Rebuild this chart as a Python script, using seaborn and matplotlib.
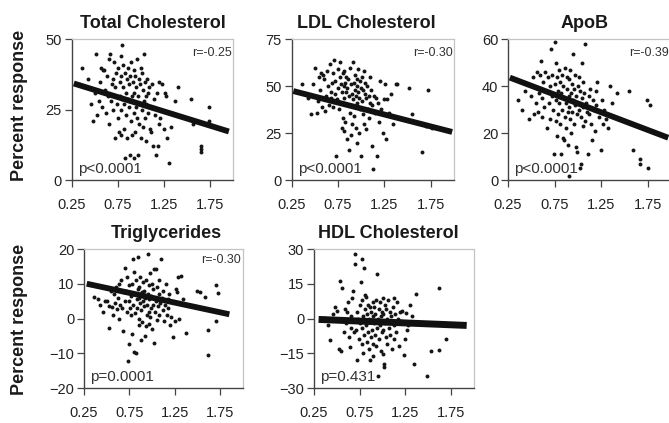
import matplotlib
matplotlib.use("Agg")
import matplotlib.pyplot as plt
import pandas as pd
import seaborn as sns

# ---- data -------------------------------------------------------------
# x values shared by the bulk of the subjects (dose-normalised exposure)
x_core = [
    0.36, 0.40, 0.43, 0.46, 0.48, 0.50, 0.52, 0.53, 0.55, 0.56, 0.57, 0.58, 0.59,
    0.60, 0.61, 0.62, 0.63, 0.64, 0.65, 0.66, 0.67, 0.68, 0.69, 0.70, 0.70,
    0.71, 0.72, 0.72, 0.73, 0.74, 0.75, 0.75, 0.76, 0.77, 0.77, 0.78, 0.78, 0.79, 0.79, 0.80, 0.80,
    0.81, 0.81, 0.82, 0.82, 0.83, 0.83, 0.84, 0.84, 0.85, 0.85, 0.86, 0.86, 0.87, 0.87, 0.88, 0.88,
    0.89, 0.89, 0.90, 0.90,
    0.91, 0.91, 0.92, 0.92, 0.93, 0.93, 0.94, 0.94, 0.95, 0.95, 0.96, 0.96, 0.97, 0.97, 0.98, 0.98,
    0.99, 0.99, 1.00, 1.00,
    1.01, 1.01, 1.02, 1.02, 1.03, 1.03, 1.04, 1.04, 1.05, 1.05, 1.06, 1.07, 1.08, 1.08, 1.09, 1.10,
    1.11, 1.12, 1.12, 1.13, 1.14, 1.15, 1.16, 1.17, 1.18, 1.19, 1.20,
    1.21, 1.23, 1.25, 1.26, 1.27, 1.28, 1.30, 1.32, 1.34, 1.37,
]

# Total cholesterol
x_tc = x_core + [1.40, 1.54, 1.56, 1.65, 1.65, 1.65, 1.73, 1.73]
y_tc = [
    40, 33, 36, 27, 21, 31, 45, 23, 28, 35, 40, 26, 39,
    39, 32, 24, 37, 30, 20, 43, 45, 28, 34, 25, 36,
    42, 15, 33, 38, 27, 22, 40, 17, 35, 30, 44, 25, 16, 37, 29, 48,
    41, 33, 18, 27, 38, 8, 31, 23, 36, 15, 29, 40, 26, 34, 9, 37, 21, 42, 30, 16,
    35, 28, 8, 39, 24, 31, 17, 37, 33, 26, 43, 22, 30, 9, 36, 20, 27, 34, 15, 40,
    38, 25, 32, 19, 45, 28, 35, 22, 30, 14, 27, 36, 24, 31, 33, 18,
    17, 34, 26, 12, 29, 23, 9, 31, 12, 35, 20,
    22, 34, 18, 31, 30, 15, 6, 19, 24, 28,
    33, 29, 20, 12, 11, 10, 26, 21,
]

# LDL cholesterol
x_ldl = x_core + [1.39, 1.52, 1.55, 1.65, 1.70, 1.72, 1.76]
y_ldl = [
    51, 46, 44, 35, 51, 60, 36, 42, 55, 48, 57, 39, 56,
    54, 37, 45, 58, 50, 40, 62, 47, 44, 52, 57, 39,
    64, 46, 53, 13, 43, 59, 49, 38, 63, 55, 41, 51, 28, 47, 57, 33,
    50, 26, 58, 44, 52, 31, 47, 55, 22, 49, 40, 54, 16, 45, 60, 36, 51, 24, 46, 30,
    63, 43, 52, 34, 48, 56, 28, 45, 50, 20, 54, 41, 47, 59, 25, 44, 53, 38, 13, 49,
    42, 55, 35, 48, 58, 30, 46, 52, 27, 44, 50, 38, 45, 33, 55, 41,
    48, 18, 40, 6, 45, 36, 44, 13, 41, 31, 53,
    38, 25, 43, 51, 22, 43, 36, 46, 30, 51,
    51, 49, 35, 15, 29, 48, 28,
]

# Apolipoprotein B
x_apob = x_core + [1.42, 1.55, 1.59, 1.67, 1.67, 1.74, 1.75, 1.77]
y_apob = [
    34, 30, 38, 41, 26, 36, 44, 28, 33, 46, 29, 37, 45,
    51, 35, 27, 42, 31, 46, 38, 22, 44, 33, 26, 40,
    56, 36, 45, 30, 11, 59, 41, 25, 50, 34, 44, 19, 38, 28, 47, 33,
    42, 24, 37, 11, 45, 30, 18, 40, 17, 35, 27, 48, 33, 22, 39, 44, 29, 15, 36, 1.5,
    43, 31, 26, 47, 37, 20, 41, 29, 34, 54, 24, 39, 32, 45, 14, 36, 28, 12, 40, 33,
    30, 44, 5, 38, 7, 27, 50, 35, 23, 42, 31, 37, 25, 58, 33, 29,
    11, 36, 28, 39, 24, 17, 34, 30, 21, 38, 32,
    42, 27, 13, 34, 24, 30, 26, 22, 40, 33,
    37, 38, 13, 9, 7, 34, 5, 32,
]

# Triglycerides
x_tg = x_core + [1.49, 1.53, 1.58, 1.62, 1.62, 1.70, 1.70, 1.73]
y_tg = [
    6.3, 5.5, 4, 2, 5.1, 5.0, 3.7, -2.7, 8, 3.2, 1, 7, 4.5,
    9, 2.8, 6, 0, 10, 4, 11, 3, -3.6, 7.5, 14.5, 5,
    8, 2, 12, -12.2, 5, 9.5, -7.2, 3, 6.5, 1, 10, -4.4, 17, 4, 13.5, -9.6,
    7, 1.5, 11, -9.8, 5.5, 3, 17.7, 8.5, 0, 6, -2, 9, 4.5, 12, -6.3, 2.5, 7.5, -1, 10.5, 5,
    3.5, 8, -5.1, 6, -2.3, 11, 4, 1, 18.7, 7, 2, 9.5, -1.5, 5.5, 13, 0.5, 6.5, 3, 10, -3,
    4, 8.5, -7, 14.2, 2, 6, 14.2, 5, -0.5, 9, 3.5, 7, 1, 11, 4.5, 17,
    6, 2.5, 8, -0.6, 4, 10, 1, 5.5, 3, 7, -2,
    0.4, -5.3, -0.6, 8.5, 7.5, 12, 0, 12.1, 5.6, -4.2,
    8, 7.5, 6.3, -3.2, -10.6, 9.6, -0.6, 7.2,
]

# HDL cholesterol
x_hdl = x_core + [1.49, 1.53, 1.62, 1.62, 1.69]
y_hdl = [
    0.3, -3, -9.4, 2, 5.1, 3.1, -13, 16, -14, 13, -1, -6, 4,
    -2, 2.7, 7, -8, -12.3, 1, -4, 9, 12, -6, 27.7, 23.4,
    -5, 3, -17.7, 0, -9, 6, -2, 15.6, -11, 25.6, -4, 8, -15, 1, 21.7, -7,
    4, 10.3, 9.4, -3, -10, 2, -6, 6, -13, 0, -18, 5, -8, 3, -1, -5, 7, -11, 1, -16,
    -2, 5, -7, 2, -12, 8, -4, 19.1, -25, 0, -9, 4, -3, 7, -14, 1, -6, 3, -15.4, 9,
    -5, 2, -19.7, -21, 6, -2, -8, 4, -11, 0, 8, -4, 3, -7, 1, -13,
    5, -3, 9, -9, 2, -6, 7, 0, -12, 3, -1,
    3.4, -15.9, -8.7, 2.3, -4.9, -3, 6, 1, -19.7, 10.6,
    -24.9, -14, 13.1, -13.4, -8.7,
]

titles = ["Total Cholesterol", "LDL Cholesterol", "ApoB", "Triglycerides", "HDL Cholesterol"]
r_labels = ["r=-0.25", "r=-0.30", "r=-0.39", "r=-0.30", ""]
p_labels = ["p<0.0001", "p<0.0001", "p<0.0001", "p=0.0001", "p=0.431"]

# fitted regression lines: slope, intercept and the x span they cover
fit_slope = [-10.2, -12.75, -15.1, -5.6, -1.6]
fit_intercept = [37.15, 50.9, 47.8, 11.57, 0.08]
fit_x_start = [0.275, 0.27, 0.27, 0.28, 0.30]
fit_x_end = [1.95, 1.98, 1.97, 1.85, 1.92]

y_limits = [(0, 50), (0, 75), (0, 60), (-20, 20), (-30, 30)]
y_ticks = [[0, 25, 50], [0, 25, 50, 75], [0, 20, 40, 60],
           [-20, -10, 0, 10, 20], [-30, -15, 0, 15, 30]]
x_ticks = [0.25, 0.75, 1.25, 1.75]
x_tick_labels = ["0.25", "0.75", "1.25", "1.75"]

xs = [x_tc, x_ldl, x_apob, x_tg, x_hdl]
ys = [y_tc, y_ldl, y_apob, y_tg, y_hdl]

# ---- styling ----------------------------------------------------------
sns.set_theme(style="white")
plt.rcParams["font.family"] = ["Liberation Sans", "DejaVu Sans"]

W, H = 669, 423
fig = plt.figure(figsize=(W / 100, H / 100), dpi=100)

# panel boxes in pixels: left, top, right, bottom
boxes = [
    (71.5, 39.5, 233.5, 180),
    (291.5, 39.5, 454, 180),
    (508, 39.5, 671, 180),
    (84, 249, 243, 388),
    (314, 249, 474, 388),
]
title_x = [153, 366, 585, 166, 388]
title_y = [23, 23, 23, 233, 233]

dark = "#333333"
for i in range(5):
    l, t, r, b = boxes[i]
    ax = fig.add_axes([l / W, (H - b) / H, (r - l) / W, (b - t) / H])
    df = pd.DataFrame({"x": xs[i], "y": ys[i]})
    sns.scatterplot(data=df, x="x", y="y", ax=ax, s=8, color="#151515",
                    linewidth=0, zorder=2)
    fx = [fit_x_start[i], fit_x_end[i]]
    fy = [fit_intercept[i] + fit_slope[i] * v for v in fx]
    ax.plot(fx, fy, color="#111111", lw=4.2 if i < 4 else 5.0,
            solid_capstyle="butt", zorder=3)

    ax.set_xlim(0.25, 2.0)
    ax.set_ylim(*y_limits[i])
    ax.set_xticks(x_ticks)
    ax.set_xticklabels(x_tick_labels)
    ax.set_yticks(y_ticks[i])
    ax.set_xlabel("")
    ax.set_ylabel("")
    ax.tick_params(axis="both", direction="out", length=5, width=0.9,
                   color="#444444", labelsize=10.5, labelcolor="#222222",
                   left=True, bottom=True)
    ax.tick_params(axis="x", pad=8)
    ax.tick_params(axis="y", pad=2)
    for side in ("top", "right"):
        ax.spines[side].set_color("#c4c4c4")
        ax.spines[side].set_linewidth(0.9)
    for side in ("left", "bottom"):
        ax.spines[side].set_color("#444444")
        ax.spines[side].set_linewidth(1.0)

    if r_labels[i]:
        ax.text(0.99 if i != 3 else 0.985, 0.905 if i < 3 else 0.92,
                r_labels[i], transform=ax.transAxes, ha="right", va="center",
                fontsize=9, color=dark)
    ax.text(0.04, 0.08, p_labels[i], transform=ax.transAxes, ha="left",
            va="center", fontsize=11, color=dark, zorder=4)

    fig.text(title_x[i] / W, (H - title_y[i]) / H, titles[i], ha="center",
             va="center", fontsize=13, fontweight="bold", color="#1a1a1a")

for yc in (105, 319):
    fig.text(20 / W, (H - yc) / H, "Percent response", rotation=90,
             ha="center", va="center", fontsize=13, fontweight="bold",
             color="#1a1a1a")

fig.savefig("out.png", dpi=100, facecolor="white")
